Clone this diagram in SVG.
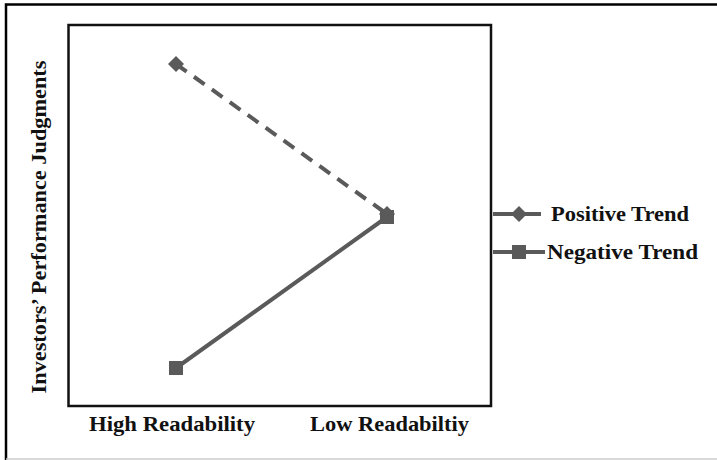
<svg xmlns="http://www.w3.org/2000/svg" width="717" height="460" viewBox="0 0 717 460">
<style>
.lbl{font-family:"Liberation Serif","Times New Roman",serif;font-weight:bold;font-size:21px;fill:#111}
.ser{stroke:#5a5a5a;stroke-width:4;fill:none}
.mk{fill:#5a5a5a}
</style>
<defs>
<path id="dia" d="M0,-8 L8,0 L0,8 L-8,0 Z"/>
<rect id="sq" x="-7" y="-7" width="14" height="14"/>
</defs>
<rect width="717" height="460" fill="#fff"/>
<g id="frame">
<path d="M717,4.5 H6 V460" fill="none" stroke="#000" stroke-width="2.5"/>
<line x1="6" y1="459" x2="717" y2="459" stroke="#ccc" stroke-width="1.5"/>
<rect x="68.5" y="25" width="422.5" height="381" fill="#fff" stroke="#111" stroke-width="2.5"/>
</g>
<g id="connectors">
<line class="ser" x1="176" y1="64" x2="387" y2="214" stroke-dasharray="13,9"/>
<line class="ser" x1="176" y1="368" x2="387" y2="217"/>
</g>
<g id="positive-high"><use href="#dia" class="mk" x="176" y="64"/></g>
<g id="positive-low"><use href="#dia" class="mk" x="387" y="214"/></g>
<g id="negative-high"><use href="#sq" class="mk" x="176" y="368"/></g>
<g id="negative-low"><use href="#sq" class="mk" x="387" y="217"/></g>
<g id="legend">
<line class="ser" x1="493" y1="214" x2="541" y2="214"/>
<use href="#dia" class="mk" x="519" y="214"/>
<text class="lbl" x="551" y="221" textLength="138" lengthAdjust="spacingAndGlyphs">Positive Trend</text>
<line class="ser" x1="493" y1="252" x2="545" y2="252" stroke-width="5"/>
<use href="#sq" class="mk" x="519" y="252"/>
<text class="lbl" x="547" y="259" textLength="151" lengthAdjust="spacingAndGlyphs">Negative Trend</text>
</g>
<g id="axis-labels">
<text class="lbl" x="89" y="431" textLength="166" lengthAdjust="spacingAndGlyphs">High Readability</text>
<text class="lbl" x="310" y="431" textLength="159" lengthAdjust="spacingAndGlyphs">Low Readabiltiy</text>
<text class="lbl" transform="translate(46,227) rotate(-90)" text-anchor="middle" textLength="333" lengthAdjust="spacingAndGlyphs">Investors’ Performance Judgments</text>
</g>
</svg>
